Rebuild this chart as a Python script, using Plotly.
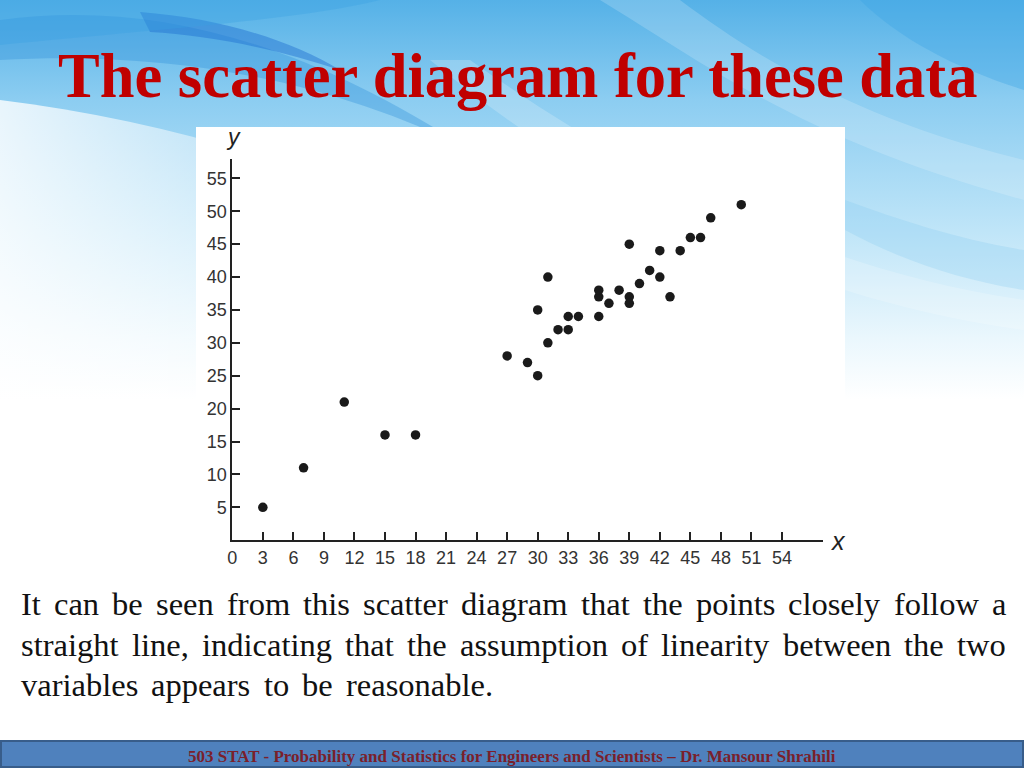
import base64
import plotly.graph_objects as go

# ---- data ----
x_vals = [3, 7, 11, 15, 18, 27, 29, 30, 30, 31, 31, 32, 33, 33, 34, 36, 36, 36, 37, 38,
          39, 39, 39, 40, 41, 42, 42, 43, 44, 45, 46, 47, 50]
y_vals = [5, 11, 21, 16, 16, 28, 27, 25, 35, 40, 30, 32, 32, 34, 34, 34, 37, 38, 36, 38,
          45, 37, 36, 39, 41, 44, 40, 37, 44, 46, 46, 49, 51]
x_ticks = list(range(0, 55, 3))
y_ticks = list(range(5, 56, 5))

title_text = "The scatter diagram for these data"
body_lines = [
    "It can be seen from this scatter diagram that the points closely follow a",
    "straight line, indicating that the assumption of linearity between the two",
    "variables appears to be reasonable.",
]
footer_text = "503 STAT - Probability and Statistics for Engineers and Scientists \u2013 Dr. Mansour Shrahili"

W, H = 1024, 768


def px(x):
    return x / W


def py(y):
    return 1 - y / H


# advance widths (em) of Liberation Serif / Times New Roman regular, for word layout
ADV = dict(a=.444, b=.5, c=.444, d=.5, e=.444, f=.333, g=.5, h=.5, i=.278, j=.278, k=.5,
           l=.278, m=.778, n=.5, o=.5, p=.5, q=.5, r=.333, s=.389, t=.278, u=.5, v=.5,
           w=.722, x=.5, y=.5, z=.444)
ADV.update({"I": .333, ",": .25, ".": .25})


def word_w(word, size):
    return sum(ADV.get(ch, .5) for ch in word) * size


# ---- slide background (svg image) ----
svg = f"""<svg xmlns="http://www.w3.org/2000/svg" width="{W}" height="{H}" viewBox="0 0 {W} {H}" preserveAspectRatio="none">
<defs>
<linearGradient id="v" x1="0" y1="0" x2="0" y2="1">
<stop offset="0" stop-color="#55b1e7"/>
<stop offset="0.13" stop-color="#8ccdf1"/>
<stop offset="0.30" stop-color="#bfe5f8"/>
<stop offset="0.44" stop-color="#eaf7fd"/>
<stop offset="0.52" stop-color="#ffffff"/>
</linearGradient>
<linearGradient id="h" x1="0" y1="0" x2="1" y2="0">
<stop offset="0" stop-color="#ffffff" stop-opacity="0.8"/>
<stop offset="0.45" stop-color="#ffffff" stop-opacity="0.35"/>
<stop offset="0.8" stop-color="#ffffff" stop-opacity="0"/>
</linearGradient>
</defs>
<rect width="{W}" height="{H}" fill="url(#v)"/>
<path d="M0,100 C200,125 420,190 560,330 L560,420 L0,420 Z" fill="url(#h)"/>
<path d="M0,20 C150,0 300,40 470,150 C330,80 170,50 0,60 Z" fill="#2f8fdb" opacity="0.35"/>
<path d="M140,12 C220,18 290,40 340,70 C280,50 210,35 150,32 Z" fill="#1f6fd0" opacity="0.45"/>
<path d="M0,0 L380,0 C300,20 150,30 0,45 Z" fill="#3aa0e2" opacity="0.35"/>
<path d="M600,0 C700,60 800,140 1024,200 L1024,160 C860,120 760,60 680,0 Z" fill="#ffffff" opacity="0.18"/>
<path d="M860,0 C900,40 960,70 1024,90 L1024,0 Z" fill="#3aa4e4" opacity="0.35"/>
<path d="M430,60 C600,200 800,300 1024,330 L1024,300 C820,270 640,180 470,60 Z" fill="#ffffff" opacity="0.2"/>
<path d="M845,230 C900,260 960,280 1024,290 L1024,250 C960,240 900,220 845,200 Z" fill="#7fc6ee" opacity="0.25"/>
</svg>"""
svg_uri = "data:image/svg+xml;base64," + base64.b64encode(svg.encode("utf-8")).decode("ascii")

fig = go.Figure()

fig.add_trace(go.Scatter(
    x=x_vals, y=y_vals, mode="markers",
    marker=dict(color="#1a1a1a", size=9.5, line=dict(width=0)),
    hoverinfo="x+y", showlegend=False,
))

axis_common = dict(
    showline=True, linecolor="#222222", linewidth=2,
    ticks="inside", ticklen=8, tickwidth=2, tickcolor="#222222",
    showgrid=False, zeroline=False, automargin=False,
    tickfont=dict(family="Liberation Sans, Arial, sans-serif", size=18, color="#333333"),
)

annotations = [
    dict(text=title_text, xref="paper", yref="paper", x=px(517.5), y=py(76),
         xanchor="center", yanchor="middle", showarrow=False,
         font=dict(family="Liberation Serif, Times New Roman, serif", size=62.5,
                   color="#c00000", weight="bold")),
    dict(text="<i>y</i>", xref="paper", yref="paper", x=px(233), y=py(137),
         xanchor="center", yanchor="middle", showarrow=False,
         font=dict(family="Liberation Sans, Arial, sans-serif", size=23, color="#222222")),
    dict(text="<i>x</i>", xref="paper", yref="paper", x=px(838), y=py(541),
         xanchor="center", yanchor="middle", showarrow=False,
         font=dict(family="Liberation Sans, Arial, sans-serif", size=25, color="#222222")),
    dict(text=f"<b>{footer_text}</b>", xref="paper", yref="paper", x=px(512), y=py(756),
         xanchor="center", yanchor="middle", showarrow=False,
         font=dict(family="Liberation Serif, Times New Roman, serif", size=17, color="#7a1f2b")),
]

# body paragraph: justified word by word (last line with natural wide spacing)
BODY_SIZE = 32.5
left, right = 20, 1005
for i, line in enumerate(body_lines):
    words = line.split(" ")
    widths = [word_w(wd, BODY_SIZE) for wd in words]
    if i < len(body_lines) - 1:
        gap = (right - left - sum(widths)) / (len(words) - 1)
    else:
        gap = 0.4 * BODY_SIZE
    xpos = left
    for wd, ww in zip(words, widths):
        annotations.append(dict(
            text=wd, xref="paper", yref="paper", x=px(xpos - 1), y=py(604 + 40.5 * i),
            xanchor="left", yanchor="middle", showarrow=False,
            font=dict(family="Liberation Serif, Times New Roman, serif", size=BODY_SIZE,
                      color="#111111")))
        xpos += ww + gap

fig.update_layout(
    width=W, height=H,
    margin=dict(l=0, r=0, t=0, b=0, pad=0, autoexpand=False),
    paper_bgcolor="#ffffff",
    plot_bgcolor="rgba(0,0,0,0)",
    xaxis=dict(domain=[px(232.3), px(822.7)], range=[0, 58], tickvals=x_ticks,
               ticktext=[str(v) for v in x_ticks], **axis_common),
    yaxis=dict(domain=[py(540.2), py(158.6)], range=[0, 58], tickvals=y_ticks,
               ticktext=[str(v) for v in y_ticks], **axis_common),
    images=[dict(source=svg_uri, xref="paper", yref="paper", x=0, y=1,
                 sizex=1, sizey=1, xanchor="left", yanchor="top",
                 sizing="stretch", layer="below")],
    shapes=[
        dict(type="rect", xref="paper", yref="paper", x0=px(196), x1=px(845),
             y0=py(565), y1=py(127), fillcolor="#ffffff", line=dict(width=0), layer="below"),
        dict(type="rect", xref="paper", yref="paper", x0=px(1), x1=px(1023),
             y0=py(767), y1=py(741), fillcolor="#4f81bd",
             line=dict(color="#385d8a", width=2), layer="below"),
    ],
    annotations=annotations,
)

fig.write_html(
    "out.html",
    config={"displayModeBar": False},
    post_script=("document.body.style.margin='0';document.body.style.padding='0';"
                 "var d=document.getElementById('{plot_id}');"
                 "d.style.position='fixed';d.style.left='0px';d.style.top='0px';"),
)
